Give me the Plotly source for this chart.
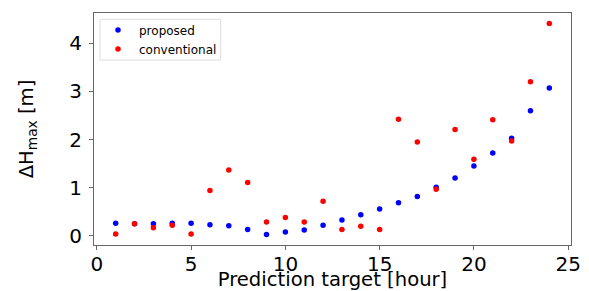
import plotly.graph_objects as go

hours = list(range(1, 25))
proposed = [0.26, 0.25, 0.25, 0.26, 0.26, 0.23, 0.21, 0.13, 0.03, 0.08,
            0.12, 0.22, 0.33, 0.44, 0.56, 0.69, 0.82, 1.01, 1.20, 1.45,
            1.72, 2.03, 2.60, 3.07]
conventional = [0.04, 0.25, 0.17, 0.22, 0.04, 0.94, 1.37, 1.11, 0.29, 0.38,
                0.29, 0.72, 0.13, 0.20, 0.13, 2.42, 1.95, 0.97, 2.21, 1.59,
                2.41, 1.97, 3.20, 4.41]
x_ticks = [0, 5, 10, 15, 20, 25]
y_ticks = [0, 1, 2, 3, 4]

FONT = "DejaVu Sans"

fig = go.Figure()
fig.add_trace(go.Scatter(x=hours, y=proposed, mode="markers", name="proposed",
                         marker=dict(color="#0000ff", size=5.5)))
fig.add_trace(go.Scatter(x=hours, y=conventional, mode="markers", name="conventional",
                         marker=dict(color="#ff0000", size=5.5)))

axis_common = dict(showline=True, linecolor="#666666", linewidth=1, mirror=True,
                   ticks="outside", ticklen=4, tickcolor="#666666", showgrid=False,
                   zeroline=False, automargin=False,
                   tickfont=dict(family=FONT, size=20, color="black"))

# legend frame (matplotlib-style box)
fig.add_shape(type="rect", xref="paper", yref="paper",
              x0=0.0126, x1=0.2656, y0=0.797, y1=0.973,
              line=dict(color="#dddddd", width=1), fillcolor="white", layer="above")

fig.update_layout(
    width=581, height=283,
    margin=dict(l=86, r=18, t=5, b=46),
    paper_bgcolor="white", plot_bgcolor="white",
    font=dict(family=FONT, color="black"),
    xaxis=dict(range=[-0.15, 25.15], tickvals=x_ticks, ticklabelstandoff=-3,
               title=dict(text="Prediction target [hour]", font=dict(family=FONT, size=19.6), standoff=0),
               **axis_common),
    yaxis=dict(range=[-0.19, 4.63], tickvals=y_ticks, ticklabelstandoff=3,
               title=dict(text="ΔH<sub>max</sub> [m]", font=dict(family=FONT, size=19.6), standoff=30),
               **axis_common),
    legend=dict(x=0.0063, y=0.989, xanchor="left", yanchor="top",
                bgcolor="rgba(0,0,0,0)", borderwidth=0,
                font=dict(family=FONT, size=12), itemsizing="trace",
                itemwidth=32, tracegroupgap=0),
    showlegend=True,
)

fig.write_html("out.html")
